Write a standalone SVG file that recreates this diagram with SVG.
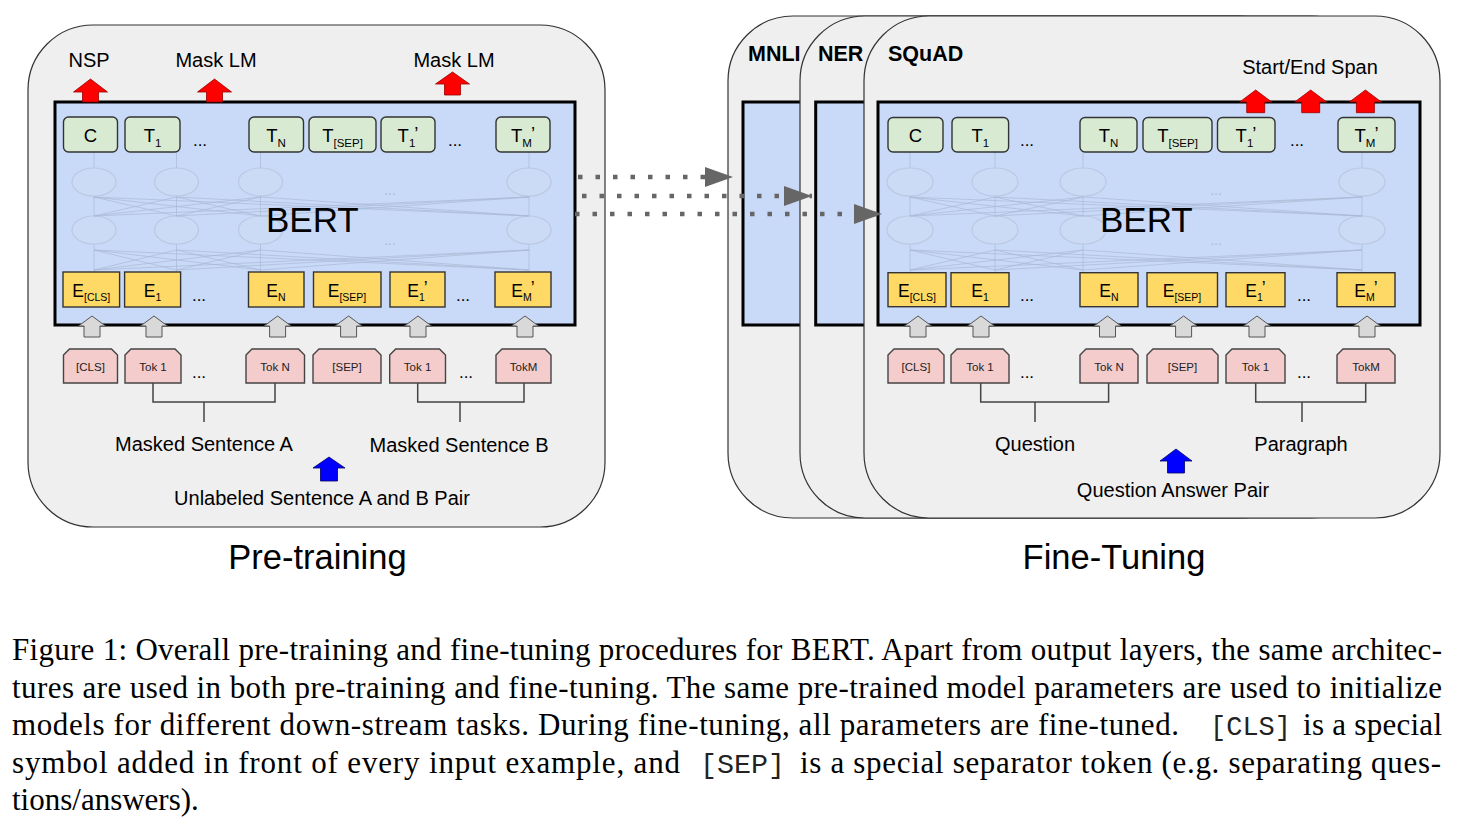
<svg xmlns="http://www.w3.org/2000/svg" width="1466" height="826" viewBox="0 0 1466 826">
<defs>
<style>
.panel{fill:#efefef;stroke:#333;stroke-width:1.2}
.bert{fill:#c9daf8;stroke:#000;stroke-width:3}
.g{fill:#d9ead3;stroke:#333;stroke-width:1.4}
.y{fill:#ffd966;stroke:#333;stroke-width:1.4}
.p{fill:#f4cccc;stroke:#444;stroke-width:1.4}
.ga{fill:#d9d9d9;stroke:#555;stroke-width:1}
.ra{fill:#ff0000;stroke:#990000;stroke-width:0.8}
.ba{fill:#0000ff;stroke:#000066;stroke-width:0.8}
.net{fill:none;stroke:#a9b9d4;stroke-width:1;opacity:0.7}
.ell{fill:#ccdbf5;stroke:#b6c5df;stroke-width:1.2;opacity:0.8}
.br{fill:none;stroke:#444;stroke-width:1.5}
.s{font-family:"Liberation Sans",Arial,sans-serif;fill:#000}
.lab{font-size:20px}
.task{font-size:21.5px;font-weight:bold}
.bt{font-size:35px}
.gt{font-size:18.5px;text-anchor:middle}
.yt{font-size:17.5px;text-anchor:middle}
.pt{font-size:11.5px;text-anchor:middle;fill:#222}
.dots{font-size:17px;text-anchor:middle}
.fd{font-size:14px;text-anchor:middle;fill:#a9b9d4}
.cap{font-family:"Liberation Serif","Times New Roman",serif;font-size:31px;fill:#000}
.mono{font-family:"Liberation Mono","Courier New",monospace;font-size:27px;fill:#222}
.dot{fill:none;stroke:#666;stroke-width:4.5;stroke-dasharray:4.5 13}
</style>
<marker id="ah" markerUnits="userSpaceOnUse" markerWidth="28" markerHeight="20" refX="28" refY="10" orient="auto">
<path d="M0,0 L28,10 L0,20 Z" fill="#666"/>
</marker>
</defs>
<rect width="1466" height="826" fill="#fff"/>

<!-- ================= PRE-TRAINING ================= -->
<g id="pretraining">
<rect class="panel" x="28" y="25" width="577" height="502" rx="65"/>
<text class="s lab" x="89" y="67" text-anchor="middle">NSP</text>
<text class="s lab" x="216" y="67" text-anchor="middle">Mask LM</text>
<text class="s lab" x="454" y="67" text-anchor="middle">Mask LM</text>
</g>
<g id="pre-bert">
<rect class="bert" x="55" y="102" width="520" height="223"/>
<g id="pre-net">
<ellipse class="ell" cx="94" cy="182" rx="22" ry="14"/><ellipse class="ell" cx="176.5" cy="182" rx="22" ry="14"/><ellipse class="ell" cx="260.5" cy="182" rx="22" ry="14"/><ellipse class="ell" cx="529" cy="182" rx="22" ry="14"/>
<ellipse class="ell" cx="94" cy="230" rx="22" ry="14"/><ellipse class="ell" cx="176.5" cy="230" rx="22" ry="14"/><ellipse class="ell" cx="260.5" cy="230" rx="22" ry="14"/><ellipse class="ell" cx="529" cy="230" rx="22" ry="14"/>
<path class="net" d="M94 272V244M94 216V196M94 168V152M176.5 272V244M176.5 216V196M176.5 168V152M260.5 272V244M260.5 216V196M260.5 168V152M529 272V244M529 216V196M529 168V152
M94 270L176.5 250M94 270L260.5 250M94 270L529 250M176.5 270L94 250M176.5 270L260.5 250M176.5 270L529 250M260.5 270L94 250M260.5 270L176.5 250M260.5 270L529 250M529 270L94 250M529 270L176.5 250M529 270L260.5 250
M94 216L176.5 197M94 216L260.5 197M94 216L529 197M176.5 216L94 197M176.5 216L260.5 197M176.5 216L529 197M260.5 216L94 197M260.5 216L176.5 197M260.5 216L529 197M529 216L94 197M529 216L176.5 197M529 216L260.5 197"/>
<text class="s fd" x="390" y="195">...</text>
<text class="s fd" x="390" y="245">...</text>
</g>
<text class="s bt" x="266" y="232">BERT</text>
</g>
<g id="pre-outputs">
<rect class="g" x="63.5" y="117" width="54" height="35" rx="5"/><text class="s gt" x="90.5" y="142">C</text>
<rect class="g" x="125" y="117" width="55" height="35" rx="5"/><text class="s gt" x="152.5" y="142">T<tspan font-size="11.5" dy="5">1</tspan></text>
<text class="s dots" x="200" y="146">...</text>
<rect class="g" x="249" y="117" width="54.5" height="35" rx="5"/><text class="s gt" x="276" y="142">T<tspan font-size="11.5" dy="5">N</tspan></text>
<rect class="g" x="309" y="117" width="67" height="35" rx="5"/><text class="s gt" x="342.5" y="142">T<tspan font-size="11.5" dy="5">[SEP]</tspan></text>
<rect class="g" x="381" y="117" width="54" height="35" rx="5"/><text class="s gt" x="408" y="142">T<tspan font-size="11.5" dy="5">1</tspan><tspan dy="-7" dx="-1">’</tspan></text>
<text class="s dots" x="455" y="146">...</text>
<rect class="g" x="496" y="117" width="54" height="35" rx="5"/><text class="s gt" x="523" y="142">T<tspan font-size="11.5" dy="5">M</tspan><tspan dy="-7" dx="-1">’</tspan></text>
</g>
<g id="pre-embeddings">
<rect class="y" x="63" y="272" width="56.6" height="35"/><text class="s yt" x="91.3" y="297">E<tspan font-size="10.5" dy="4">[CLS]</tspan></text>
<rect class="y" x="124.6" y="272" width="56" height="35"/><text class="s yt" x="152.5" y="297">E<tspan font-size="10.5" dy="4">1</tspan></text>
<text class="s dots" x="199" y="301">...</text>
<rect class="y" x="248.5" y="272" width="55.5" height="35"/><text class="s yt" x="276" y="297">E<tspan font-size="10.5" dy="4">N</tspan></text>
<rect class="y" x="313.5" y="272" width="67.5" height="35"/><text class="s yt" x="347" y="297">E<tspan font-size="10.5" dy="4">[SEP]</tspan></text>
<rect class="y" x="390" y="272" width="55" height="35"/><text class="s yt" x="417.5" y="297">E<tspan font-size="10.5" dy="4">1</tspan><tspan dy="-7" dx="-1">’</tspan></text>
<text class="s dots" x="463" y="301">...</text>
<rect class="y" x="495" y="272" width="56" height="35"/><text class="s yt" x="523" y="297">E<tspan font-size="10.5" dy="4">M</tspan><tspan dy="-7" dx="-1">’</tspan></text>
</g>
<g id="pre-tokens">
<path class="p" d="M63.5 355L69.5 349H111.5L117.5 355V383H63.5Z"/><text class="s pt" x="90.5" y="371">[CLS]</text>
<path class="p" d="M125 355L131 349H175L181 355V383H125Z"/><text class="s pt" x="153" y="371">Tok 1</text>
<text class="s dots" x="199" y="378">...</text>
<path class="p" d="M246 355L252 349H298.5L304.5 355V383H246Z"/><text class="s pt" x="275" y="371">Tok N</text>
<path class="p" d="M313 355L319 349H375L381 355V383H313Z"/><text class="s pt" x="347" y="371">[SEP]</text>
<path class="p" d="M389.7 355L395.7 349H439.5L445.5 355V383H389.7Z"/><text class="s pt" x="417.6" y="371">Tok 1</text>
<text class="s dots" x="466" y="378">...</text>
<path class="p" d="M496 355L502 349H545L551 355V383H496Z"/><text class="s pt" x="523.5" y="371">TokM</text>
</g>
<g id="pre-arrows">
<path class="ra" d="M90.5 79L107.5 92H98.5V102H82.5V92H73.5Z"/>
<path class="ra" d="M214.5 79L231.5 92H222.5V102H206.5V92H197.5Z"/>
<path class="ra" d="M452.5 72L469.5 84H460.5V95H444.5V84H435.5Z"/>
<path class="ga" d="M92 316L105.5 326H100V337H84V326H78.5Z"/>
<path class="ga" d="M154 316L167.5 326H162V337H146V326H140.5Z"/>
<path class="ga" d="M277.6 316L291.1 326H285.6V337H269.6V326H264.1Z"/>
<path class="ga" d="M348.6 316L362.1 326H356.6V337H340.6V326H335.1Z"/>
<path class="ga" d="M418 316L431.5 326H426V337H410V326H404.5Z"/>
<path class="ga" d="M525 316L538.5 326H533V337H517V326H511.5Z"/>
<path class="ba" d="M329 457L345 468H337.5V481H320.5V468H313Z"/>
</g>
<g id="pre-inputs">
<path class="br" d="M153 383V402H275V383M204 402V422M417.7 383V402H524V383M460 402V422"/>
<text class="s lab" x="204" y="451" text-anchor="middle">Masked Sentence A</text>
<text class="s lab" x="459" y="452" text-anchor="middle">Masked Sentence B</text>
<text class="s lab" x="322" y="505" text-anchor="middle">Unlabeled Sentence A and B Pair</text>
</g>

<!-- ================= FINE-TUNING ================= -->
<g id="mnli">
<rect class="panel" x="728" y="16" width="576" height="502" rx="65"/>
<rect class="bert" x="743" y="102" width="541" height="223"/>
<text class="s task" x="748" y="61">MNLI</text>
</g>
<g id="ner">
<rect class="panel" x="800" y="16" width="576" height="502" rx="65"/>
<rect class="bert" x="815.7" y="102" width="541" height="223"/>
<text class="s task" x="818" y="61">NER</text>
</g>
<g id="squad">
<rect class="panel" x="864" y="16" width="576" height="502" rx="65"/>
<text class="s task" x="888" y="61">SQuAD</text>
<text class="s lab" x="1310" y="74" text-anchor="middle">Start/End Span</text>
</g>
<g id="ft-bert">
<rect class="bert" x="878" y="102" width="542" height="223"/>
<g id="ft-net">
<ellipse class="ell" cx="910" cy="182" rx="23" ry="14"/><ellipse class="ell" cx="995" cy="182" rx="23" ry="14"/><ellipse class="ell" cx="1083" cy="182" rx="23" ry="14"/><ellipse class="ell" cx="1362" cy="182" rx="23" ry="14"/>
<ellipse class="ell" cx="910" cy="230" rx="23" ry="14"/><ellipse class="ell" cx="995" cy="230" rx="23" ry="14"/><ellipse class="ell" cx="1083" cy="230" rx="23" ry="14"/><ellipse class="ell" cx="1362" cy="230" rx="23" ry="14"/>
<path class="net" d="M910 272V244M910 216V196M910 168V152M995 272V244M995 216V196M995 168V152M1083 272V244M1083 216V196M1083 168V152M1362 272V244M1362 216V196M1362 168V152
M910 270L995 250M910 270L1083 250M910 270L1362 250M995 270L910 250M995 270L1083 250M995 270L1362 250M1083 270L910 250M1083 270L995 250M1083 270L1362 250M1362 270L910 250M1362 270L995 250M1362 270L1083 250
M910 216L995 197M910 216L1083 197M910 216L1362 197M995 216L910 197M995 216L1083 197M995 216L1362 197M1083 216L910 197M1083 216L995 197M1083 216L1362 197M1362 216L910 197M1362 216L995 197M1362 216L1083 197"/>
<text class="s fd" x="1216" y="195">...</text>
<text class="s fd" x="1216" y="245">...</text>
</g>
<text class="s bt" x="1100" y="232">BERT</text>
</g>
<g id="ft-outputs">
<rect class="g" x="888" y="117.5" width="55" height="34.5" rx="5"/><text class="s gt" x="915.5" y="142">C</text>
<rect class="g" x="952" y="117.5" width="56.6" height="34.5" rx="5"/><text class="s gt" x="980.3" y="142">T<tspan font-size="11.5" dy="5">1</tspan></text>
<text class="s dots" x="1027" y="146">...</text>
<rect class="g" x="1080" y="117.5" width="57" height="34.5" rx="5"/><text class="s gt" x="1108.5" y="142">T<tspan font-size="11.5" dy="5">N</tspan></text>
<rect class="g" x="1143" y="117.5" width="69" height="34.5" rx="5"/><text class="s gt" x="1177.5" y="142">T<tspan font-size="11.5" dy="5">[SEP]</tspan></text>
<rect class="g" x="1217.5" y="117.5" width="57.5" height="34.5" rx="5"/><text class="s gt" x="1246" y="142">T<tspan font-size="11.5" dy="5">1</tspan><tspan dy="-7" dx="-1">’</tspan></text>
<text class="s dots" x="1297" y="146">...</text>
<rect class="g" x="1338" y="117.5" width="57" height="34.5" rx="5"/><text class="s gt" x="1366.5" y="142">T<tspan font-size="11.5" dy="5">M</tspan><tspan dy="-7" dx="-1">’</tspan></text>
</g>
<g id="ft-embeddings">
<rect class="y" x="888" y="272.7" width="58" height="34"/><text class="s yt" x="917" y="297">E<tspan font-size="10.5" dy="4">[CLS]</tspan></text>
<rect class="y" x="951" y="272.7" width="58" height="34"/><text class="s yt" x="980" y="297">E<tspan font-size="10.5" dy="4">1</tspan></text>
<text class="s dots" x="1027" y="301">...</text>
<rect class="y" x="1080" y="272.7" width="58" height="34"/><text class="s yt" x="1109" y="297">E<tspan font-size="10.5" dy="4">N</tspan></text>
<rect class="y" x="1147" y="272.7" width="70.5" height="34"/><text class="s yt" x="1182" y="297">E<tspan font-size="10.5" dy="4">[SEP]</tspan></text>
<rect class="y" x="1226" y="272.7" width="59" height="34"/><text class="s yt" x="1255.5" y="297">E<tspan font-size="10.5" dy="4">1</tspan><tspan dy="-7" dx="-1">’</tspan></text>
<text class="s dots" x="1304" y="301">...</text>
<rect class="y" x="1337" y="272.7" width="58" height="34"/><text class="s yt" x="1366" y="297">E<tspan font-size="10.5" dy="4">M</tspan><tspan dy="-7" dx="-1">’</tspan></text>
</g>
<g id="ft-tokens">
<path class="p" d="M888 355L894 349H938L944 355V383H888Z"/><text class="s pt" x="916" y="371">[CLS]</text>
<path class="p" d="M951 355L957 349H1003L1009 355V383H951Z"/><text class="s pt" x="980" y="371">Tok 1</text>
<text class="s dots" x="1027" y="378">...</text>
<path class="p" d="M1080 355L1086 349H1132L1138 355V383H1080Z"/><text class="s pt" x="1109" y="371">Tok N</text>
<path class="p" d="M1147 355L1153 349H1212L1218 355V383H1147Z"/><text class="s pt" x="1182.5" y="371">[SEP]</text>
<path class="p" d="M1226 355L1232 349H1279L1285 355V383H1226Z"/><text class="s pt" x="1255.5" y="371">Tok 1</text>
<text class="s dots" x="1304" y="378">...</text>
<path class="p" d="M1337 355L1343 349H1389L1395 355V383H1337Z"/><text class="s pt" x="1366" y="371">TokM</text>
</g>
<g id="ft-arrows">
<path class="ra" d="M1255.7 90L1271.7 102H1264.7V112.7H1246.7V102H1239.7Z"/>
<path class="ra" d="M1310.7 90L1326.7 102H1319.7V112.7H1301.7V102H1294.7Z"/>
<path class="ra" d="M1365.4 90L1381.4 102H1374.4V112.7H1356.4V102H1349.4Z"/>
<path class="ga" d="M918 316L931.5 326H926V337H910V326H904.5Z"/>
<path class="ga" d="M981 316L994.5 326H989V337H973V326H967.5Z"/>
<path class="ga" d="M1107.5 316L1121 326H1115.5V337H1099.5V326H1094Z"/>
<path class="ga" d="M1183.6 316L1197.1 326H1191.6V337H1175.6V326H1170.1Z"/>
<path class="ga" d="M1257 316L1270.5 326H1265V337H1249V326H1243.5Z"/>
<path class="ga" d="M1367 316L1380.5 326H1375V337H1359V326H1353.5Z"/>
<path class="ba" d="M1176 449L1192 461H1184.5V473H1167.5V461H1160Z"/>
</g>
<g id="ft-inputs">
<path class="br" d="M980.7 383V402H1108.6V383M1035 402V422M1255.7 383V402H1365.7V383M1302 402V422"/>
<text class="s lab" x="1035" y="451" text-anchor="middle">Question</text>
<text class="s lab" x="1301" y="451" text-anchor="middle">Paragraph</text>
<text class="s lab" x="1173" y="497" text-anchor="middle">Question Answer Pair</text>
</g>

<g id="connectors">
<path class="dot" d="M578 177H733" marker-end="url(#ah)"/>
<path class="dot" d="M582 196H812" marker-end="url(#ah)"/>
<path class="dot" d="M575 214H882" marker-end="url(#ah)"/>
</g>

<g id="titles">
<text class="s" x="317.5" y="569" font-size="34.5" text-anchor="middle">Pre-training</text>
<text class="s" x="1114" y="569" font-size="34.5" text-anchor="middle">Fine-Tuning</text>
</g>

<g id="caption">
<text class="cap" x="12" y="660" textLength="1430" lengthAdjust="spacing">Figure 1: Overall pre-training and fine-tuning procedures for BERT. Apart from output layers, the same architec-</text>
<text class="cap" x="12" y="697.5" textLength="1430" lengthAdjust="spacing">tures are used in both pre-training and fine-tuning.  The same pre-trained model parameters are used to initialize</text>
<text class="cap" x="12" y="735" textLength="1167" lengthAdjust="spacing">models for different down-stream tasks.  During fine-tuning, all parameters are fine-tuned.</text>
<text class="mono" x="1210" y="735" textLength="81" lengthAdjust="spacingAndGlyphs">[CLS]</text>
<text class="cap" x="1303" y="735" textLength="139" lengthAdjust="spacing">is a special</text>
<text class="cap" x="12" y="772.5" textLength="668" lengthAdjust="spacing">symbol added in front of every input example, and</text>
<text class="mono" x="700" y="772.5" textLength="85" lengthAdjust="spacingAndGlyphs">[SEP]</text>
<text class="cap" x="800" y="772.5" textLength="641" lengthAdjust="spacing">is a special separator token (e.g.  separating ques-</text>
<text class="cap" x="12" y="810">tions/answers).</text>
</g>
</svg>
